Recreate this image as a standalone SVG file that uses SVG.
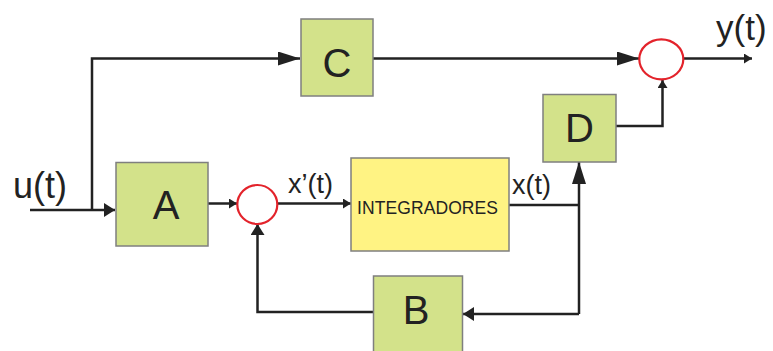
<svg xmlns="http://www.w3.org/2000/svg" width="773" height="351" viewBox="0 0 773 351">
<defs>
<style>
.blk{fill:#d3e28a;stroke:#7f7f7f;stroke-width:1.5}
.int{fill:#fff383;stroke:#7f7f7f;stroke-width:1.5}
.sum{fill:#fff;stroke:#e3232b;stroke-width:2.2}
.ln{fill:none;stroke:#222;stroke-width:2.5}
.big{font-family:"Liberation Sans",Arial,sans-serif;font-size:40px;fill:#222;text-anchor:middle}
.sig{font-family:"Liberation Sans",Arial,sans-serif;fill:#222}
</style>
<marker id="aL" markerUnits="userSpaceOnUse" markerWidth="24" markerHeight="16" refX="22" refY="7" orient="auto"><path d="M0,0 L22,7 L0,14 Z" fill="#222"/></marker>
<marker id="aS" markerUnits="userSpaceOnUse" markerWidth="14" markerHeight="16" refX="11" refY="7" orient="auto"><path d="M0,0 L11,7 L0,14 Z" fill="#222"/></marker>
<marker id="aT" markerUnits="userSpaceOnUse" markerWidth="10" markerHeight="12" refX="8" refY="5" orient="auto"><path d="M0,0 L8,5 L0,10 Z" fill="#222"/></marker>
</defs>
<g id="connectors">
<path class="ln" d="M30,210 L115,210" marker-end="url(#aS)"/>
<path class="ln" d="M92,210 L92,58.5 L300,58.5" marker-end="url(#aL)"/>
<path class="ln" d="M373,58.5 L639,58.5" marker-end="url(#aL)"/>
<path class="ln" d="M683,58.5 L752,58.5" marker-end="url(#aT)"/>
<path class="ln" d="M208,203.5 L237,203.5" marker-end="url(#aT)"/>
<path class="ln" d="M277,203.5 L351,203.5" marker-end="url(#aT)"/>
<path class="ln" d="M509,205 L579,205"/>
<path class="ln" d="M579,314 L579,162" marker-end="url(#aL)"/>
<path class="ln" d="M579,314 L463,314" marker-end="url(#aS)"/>
<path class="ln" d="M373,312 L257.5,312 L257.5,224" marker-end="url(#aS)"/>
<path class="ln" d="M616,126 L662.5,126 L662.5,80" marker-end="url(#aT)"/>
</g>
<g id="C"><rect class="blk" x="301" y="19" width="72" height="77"/><text class="big" x="337" y="77">C</text></g>
<g id="A"><rect class="blk" x="116" y="162.5" width="92" height="83.5"/><text class="big" x="166" y="219">A</text></g>
<g id="D"><rect class="blk" x="543" y="94.5" width="73" height="67.5"/><text class="big" x="579.5" y="142">D</text></g>
<g id="B"><rect class="blk" x="373.5" y="276" width="89" height="90"/><text class="big" x="416" y="324">B</text></g>
<g id="INT"><rect class="int" x="351" y="158" width="158" height="93"/><text class="sig" x="357" y="213.5" font-size="17.5" textLength="141">INTEGRADORES</text></g>
<g id="sum1"><ellipse class="sum" cx="257.3" cy="204.5" rx="20" ry="19.5"/></g>
<g id="sum2"><ellipse class="sum" cx="661.3" cy="59.3" rx="22" ry="20"/></g>
<g id="labels">
<text class="sig" x="13" y="197.5" font-size="36">u(t)</text>
<text class="sig" x="288" y="192.5" font-size="27">x’(t)</text>
<text class="sig" x="512" y="193.5" font-size="27">x(t)</text>
<text class="sig" x="716" y="39.5" font-size="35">y(t)</text>
</g>
</svg>
